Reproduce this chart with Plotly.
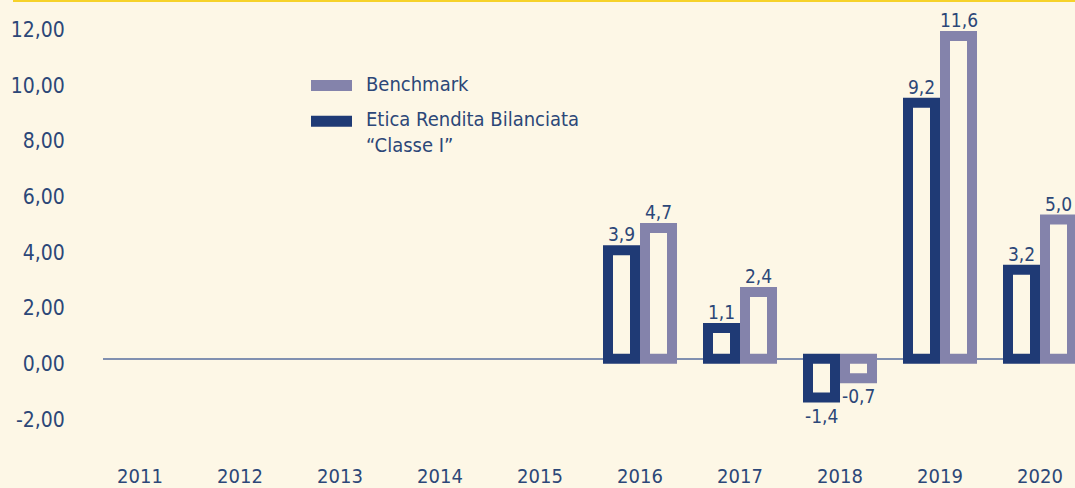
import plotly.graph_objects as go

# ---- data ----
years = ["2011", "2012", "2013", "2014", "2015", "2016", "2017", "2018", "2019", "2020"]
etica = [None, None, None, None, None, 3.9, 1.1, -1.4, 9.2, 3.2]
benchmark = [None, None, None, None, None, 4.7, 2.4, -0.7, 11.6, 5.0]
ytick_vals = [-2, 0, 2, 4, 6, 8, 10, 12]
ytick_text = ["-2,00", "0,00", "2,00", "4,00", "6,00", "8,00", "10,00", "12,00"]

BG = "#fdf7e6"
DARK = "#1f3a75"
LIGHT = "#8483ab"
TXT = "#2c4778"
FONT = "DejaVu Sans Condensed, DejaVu Sans, sans-serif"

W, H = 1075, 488
ML, MR, MT, MB = 103, 0, 0, 23
PW, PH = W - ML - MR, H - MT - MB


def px_x(px):
    return (px - ML) / PW


def px_y(py):
    return 1 - (py - MT) / PH


def fmt(v):
    return f"{v:.1f}".replace(".", ",")


CAT_PX = PW / 9.72          # pixels per category
SLOT = CAT_PX * (1 - 0.26) / 2

fig = go.Figure()
series = [("Etica Rendita Bilanciata", etica, DARK, -0.5), ("Benchmark", benchmark, LIGHT, 0.5)]
for name, vals, col, side in series:
    fig.add_trace(go.Bar(
        x=years, y=vals, name=name,
        marker=dict(color=BG, line=dict(color=col, width=10)),
        cliponaxis=False, showlegend=False, hoverinfo="x+y",
    ))
    for i, v in enumerate(vals):
        if v is None:
            continue
        fig.add_annotation(x=i, y=v, xref="x", yref="y", text=fmt(v), showarrow=False,
                           xshift=side * SLOT, yshift=16 if v >= 0 else -18,
                           xanchor="center", yanchor="middle",
                           font=dict(family=FONT, size=19, color=TXT))

zero_px = 361
ppu = 28.0
ytop = (zero_px - MT) / ppu
ybot = -((H - MB) - zero_px) / ppu

fig.update_layout(
    width=W, height=H,
    margin=dict(l=ML, r=MR, t=MT, b=MB),
    paper_bgcolor=BG, plot_bgcolor=BG,
    barmode="group", bargap=0.26, bargroupgap=0.27,
    font=dict(family=FONT, color=TXT),
    xaxis=dict(type="category", range=[-0.37, 9.35], showgrid=False, zeroline=False,
               showline=False, ticks="", tickfont=dict(size=20, color=TXT)),
    yaxis=dict(range=[ybot, ytop], showgrid=False, zeroline=True, zerolinecolor="#8190b0",
               zerolinewidth=1.5, showline=False, tickvals=ytick_vals, ticktext=ytick_text,
               ticks="outside", ticklen=33, tickcolor="rgba(0,0,0,0)",
               tickfont=dict(size=21, color=TXT), ticklabelshift=5),
)

# top yellow rule
fig.add_shape(type="line", xref="paper", yref="paper", x0=px_x(13), x1=px_x(W), y0=1, y1=1,
              line=dict(color="#f6d22a", width=4))

# legend swatches and labels
fig.add_shape(type="rect", xref="paper", yref="paper", x0=px_x(311), x1=px_x(352),
              y0=px_y(80.5), y1=px_y(91.5), fillcolor=LIGHT, line=dict(width=0))
fig.add_shape(type="rect", xref="paper", yref="paper", x0=px_x(311), x1=px_x(352),
              y0=px_y(116.5), y1=px_y(127.5), fillcolor=DARK, line=dict(width=0))
fig.add_annotation(xref="paper", yref="paper", x=px_x(364), y=px_y(85), xanchor="left",
                   yanchor="middle", showarrow=False, text="Benchmark",
                   font=dict(family=FONT, size=20, color=TXT))
fig.add_annotation(xref="paper", yref="paper", x=px_x(364), y=px_y(133), xanchor="left",
                   yanchor="middle", showarrow=False, align="left",
                   text="Etica Rendita Bilanciata<br>\u201cClasse I\u201d",
                   font=dict(family=FONT, size=20, color=TXT))

fig.write_html("out.html", config={"displayModeBar": False},
               post_script="document.body.style.margin='0';")
